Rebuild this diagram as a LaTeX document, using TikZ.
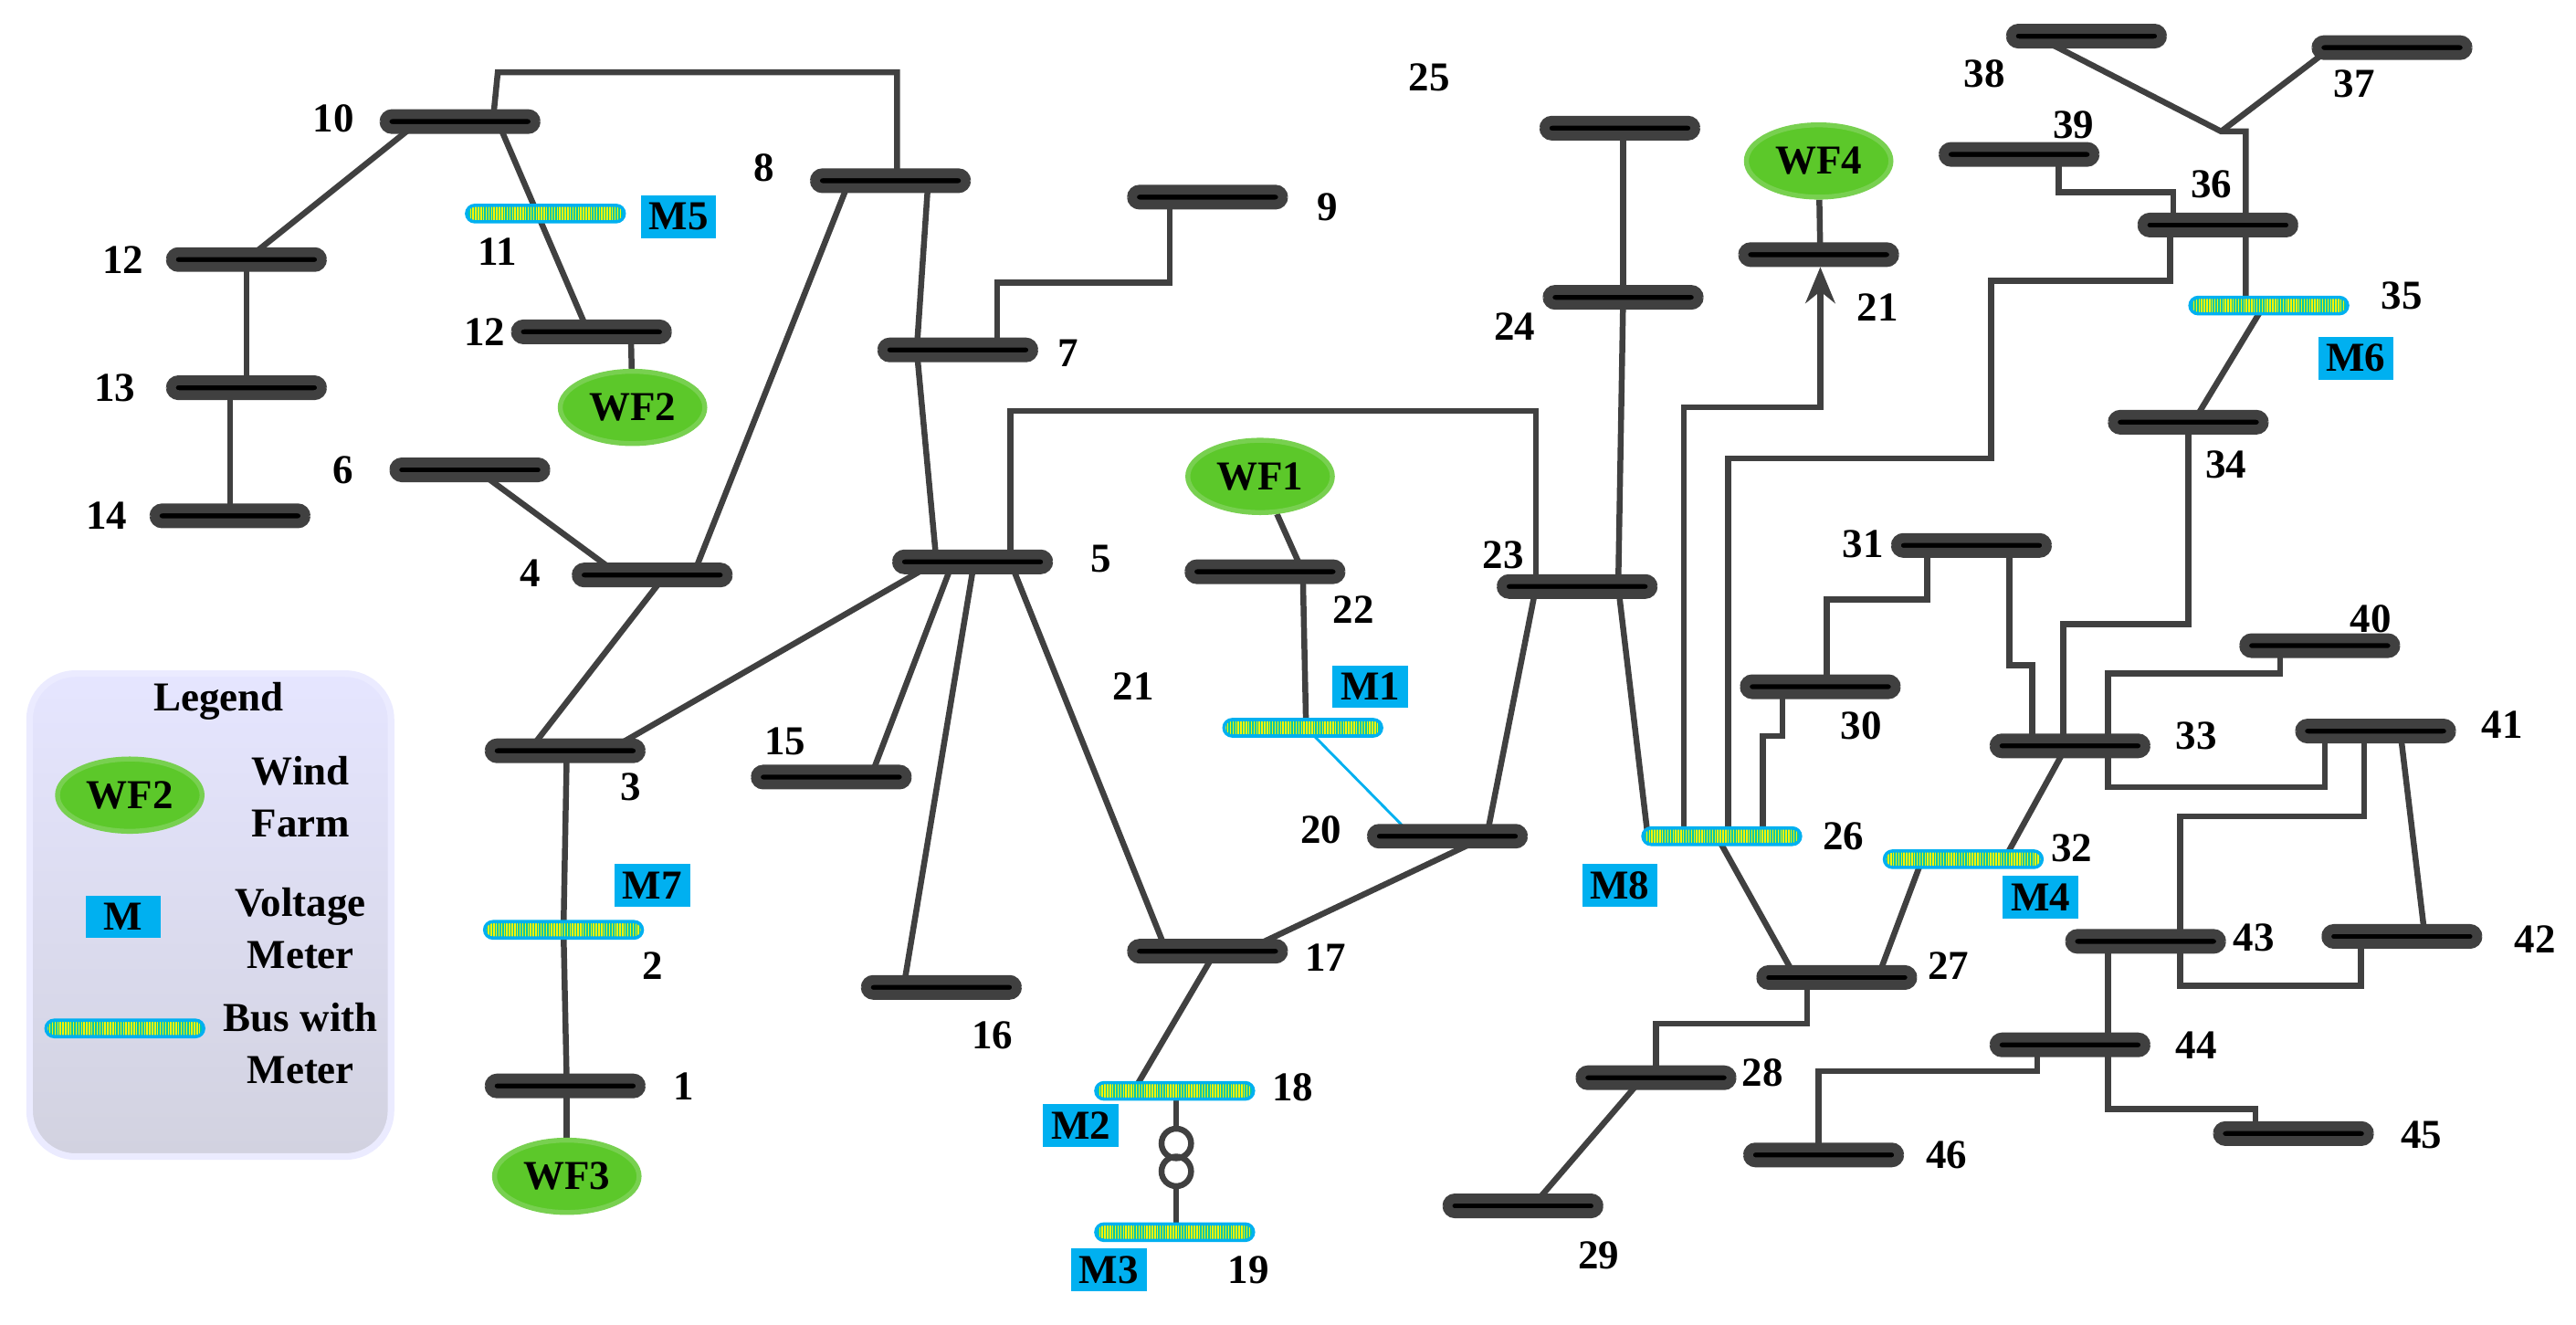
\documentclass[tikz,border=0pt]{standalone}
\usepackage{fontspec}
\setmainfont{Liberation Serif}
\newfontfamily\lsr{Liberation Serif}
\usetikzlibrary{arrows.meta,shapes.geometric}
\pgfdeclarelayer{bg}
\pgfsetlayers{bg,main}
\definecolor{ln}{HTML}{404040}
\definecolor{mcyan}{HTML}{00B0F0}
\definecolor{wfg}{HTML}{5CC82A}
\definecolor{wfb}{HTML}{78D050}
\tikzset{
  bus/.style={rectangle,draw=ln,fill=black,line width=3pt,rounded corners=2.3pt,minimum width=46pt,minimum height=4.5pt,inner sep=0pt},
  mbus/.style={rectangle,draw=mcyan,fill=yellow,line width=1pt,rounded corners=2.5pt,minimum width=48pt,minimum height=5pt,inner sep=0pt,
    path picture={\foreach \i in {0,...,70}{\draw[mcyan!70!green,line width=0.4pt] ([xshift=\i*0.8pt]path picture bounding box.south west) -- ++(0,10pt);}}},
  con/.style={draw=ln,line width=1.8pt},
  lab/.style={font=\lsr\fontsize{12.5}{14}\selectfont\bfseries,inner sep=0pt},
  meter/.style={fill=mcyan,font=\lsr\fontsize{12.5}{14}\selectfont\bfseries,inner sep=0pt,minimum width=23pt,minimum height=13pt},
  wf/.style={ellipse,fill=wfg,draw=wfb,line width=1.5pt,minimum width=44pt,minimum height=22pt,inner sep=0pt,font=\lsr\fontsize{12.5}{14}\selectfont\bfseries},
}
\begin{document}
\begin{tikzpicture}[x=0.5pt,y=-0.5pt]
\useasboundingbox (0,0) rectangle (1568,806);
% legend
\node[draw=blue!8!white,line width=2pt,rounded corners=14pt,top color=blue!10!white,bottom color=blue!18!gray!30!white,minimum width=110pt,minimum height=147pt] (leg) at (128,557) {};
\node[lab] (legt) at (133,427) {Legend};
\node[wf] (lwf) at (79,484) {WF2};
\node[lab,align=center] (lwft) at (183,485) {Wind\\[2pt]Farm};
\node[meter] (lm) at (75,558) {M};
\node[lab,align=center] (lmt) at (183,565) {Voltage\\[2pt]Meter};
\node[mbus] (lmb) at (76,626) {};
\node[lab,align=center] (lmbt) at (183,635) {Bus with\\[2pt]Meter};
% buses
\node[bus] (b10) at (280,74) {};
\node[bus] (b8) at (542,110) {};
\node[bus] (b12a) at (150,158) {};
\node[bus] (b13) at (150,236) {};
\node[bus] (b14) at (140,314) {};
\node[mbus] (m11) at (332,130) {};
\node[bus] (b12b) at (360,202) {};
\node[bus] (b6) at (286,286) {};
\node[bus] (b4) at (397,350) {};
\node[bus] (b3) at (344,457) {};
\node[mbus] (m2) at (343,566) {};
\node[bus] (b1) at (344,661) {};
\node[bus] (b7) at (583,213) {};
\node[bus] (b9) at (735,120) {};
\node[bus] (b5) at (592,342) {};
\node[bus] (b15) at (506,473) {};
\node[bus] (b16) at (573,601) {};
\node[bus] (b22) at (770,348) {};
\node[mbus] (mm1) at (793,443) {};
\node[bus] (b20) at (881,509) {};
\node[bus] (b17) at (735,579) {};
\node[mbus] (m18) at (715,664) {};
\node[mbus] (m19) at (715,750) {};
\node[bus] (b23) at (960,357) {};
\node[bus] (b24) at (988,181) {};
\node[bus] (b25) at (986,78) {};
\node[bus] (b21) at (1107,155) {};
\node[mbus] (m26) at (1048,509) {};
\node[bus] (b27) at (1118,595) {};
\node[bus] (b28) at (1008,656) {};
\node[bus] (b29) at (927,734) {};
\node[bus] (b30) at (1108,418) {};
\node[bus] (b31) at (1200,332) {};
\node[mbus] (m32) at (1195,523) {};
\node[bus] (b33) at (1260,454) {};
\node[bus] (b34) at (1332,257) {};
\node[mbus] (m35) at (1381,186) {};
\node[bus] (b36) at (1350,137) {};
\node[bus] (b37) at (1456,29) {};
\node[bus] (b38) at (1270,22) {};
\node[bus] (b39) at (1229,94) {};
\node[bus] (b40) at (1412,393) {};
\node[bus] (b41) at (1446,445) {};
\node[bus] (b42) at (1462,570) {};
\node[bus] (b43) at (1306,573) {};
\node[bus] (b44) at (1260,636) {};
\node[bus] (b45) at (1396,690) {};
\node[bus] (b46) at (1110,703) {};
% wind farms
\node[wf] (wf2) at (385,248) {WF2};
\node[wf] (wf3) at (345,716) {WF3};
\node[wf] (wf1) at (767,290) {WF1};
\node[wf] (wf4) at (1107,98) {WF4};
% meters
\node[meter] (M5) at (413,132) {M5};
\node[meter] (M7) at (397,539) {M7};
\node[meter] (M1) at (834,418) {M1};
\node[meter] (M2) at (658,685) {M2};
\node[meter] (M3) at (675,773) {M3};
\node[meter] (M8) at (986,539) {M8};
\node[meter] (M4) at (1242,546) {M4};
\node[meter] (M6) at (1434,218) {M6};
% transformer
\coordinate (tA) at (716,696);
\coordinate (tB) at (716,713);
\draw[ln,line width=1.8pt] (tA) circle (9);
\draw[ln,line width=1.8pt] (tB) circle (9);
% labels
\foreach \t/\x/\y in {10/203/72,8/465/102,12/75/158,13/70/236,14/65/314,11/303/153,12/295/202,6/209/286,4/323/349,3/384/479,2/397/588,1/416/661,7/650/215,9/808/126,5/670/340,15/478/451,16/604/630,21/690/418,25/870/47,22/824/371,20/804/505,17/807/583,18/787/662,19/760/773,23/915/338,24/922/199,21/1143/187,26/1122/509,27/1186/588,28/1073/653,29/973/764,30/1133/442,31/1134/331,32/1261/516,33/1337/448,34/1355/283,35/1462/180,36/1346/112,37/1433/51,38/1208/45,39/1262/76,40/1443/377,41/1523/441,42/1543/572,43/1372/571,44/1337/636,45/1474/691,46/1185/703}
  \node[lab] at (\x,\y) {\t};
% connectors
\begin{pgfonlayer}{bg}
\draw[con] (300,0 |- b10) -- (303,44) -- (546,44) -- (546,0 |- b8);
\draw[con] (255,0 |- b10) -- (150,0 |- b12a);
\draw[con] (303,0 |- b10) -- (358,0 |- b12b);
\draw[con] (150,0 |- b12a) -- (150,0 |- b13);
\draw[con] (140,0 |- b13) -- (140,0 |- b14);
\draw[con] (384,0 |- b12b) -- (wf2);
\draw[con] (517,0 |- b8) -- (422,0 |- b4);
\draw[con] (565,0 |- b8) -- (558,0 |- b7);
\draw[con] (558,0 |- b7) -- (570,0 |- b5);
\draw[con] (607,0 |- b7) -- (607,172) -- (712,172) -- (712,0 |- b9);
\draw[con] (290,0 |- b6) -- (377,0 |- b4);
\draw[con] (405,0 |- b4) -- (322,0 |- b3);
\draw[con] (345,0 |- b3) -- (343,0 |- m2);
\draw[con] (343,0 |- m2) -- (345,0 |- b1);
\draw[con] (345,0 |- b1) -- (wf3);
\draw[con] (370,0 |- b3) -- (570,0 |- b5);
\draw[con] (615,0 |- b5) -- (615,250) -- (935,250) -- (935,0 |- b23);
\draw[con] (580,0 |- b5) -- (530,0 |- b15);
\draw[con] (593,0 |- b5) -- (550,0 |- b16);
\draw[con] (615,0 |- b5) -- (710,0 |- b17);
\draw[con] (757,0 |- b17) -- (905,0 |- b20);
\draw[con] (740,0 |- b17) -- (690,0 |- m18);
\draw[con] (716,0 |- m18) -- (716,687);
\draw[con] (716,722) -- (716,0 |- m19);
\draw[con] (wf1) -- (793,0 |- b22);
\draw[con] (793,0 |- b22) -- (795,0 |- mm1);
\draw[mcyan,line width=0.8pt] (795,0 |- mm1) -- (860,0 |- b20);
\draw[con] (905,0 |- b20) -- (935,0 |- b23);
\draw[con] (985,0 |- b23) -- (1003,0 |- m26);
\draw[con] (988,0 |- b25) -- (988,0 |- b24);
\draw[con] (988,0 |- b24) -- (985,0 |- b23);
\draw[con] (wf4) -- (1108,0 |- b21);
\draw[con,-{Stealth[length=11pt,width=9pt]}] (1025,0 |- m26) -- (1025,248) -- (1108,248) -- (b21.south -| 1108,0);
\draw[con] (1052,0 |- m26) -- (1052,279) -- (1212,279) -- (1212,171) -- (1321,171) -- (1321,0 |- b36);
\draw[con] (1073,0 |- m26) -- (1073,448) -- (1085,448) -- (1085,0 |- b30);
\draw[con] (1045,0 |- m26) -- (1093,0 |- b27);
\draw[con] (1143,0 |- b27) -- (1170,0 |- m32);
\draw[con] (1100,0 |- b27) -- (1100,623) -- (1008,623) -- (1008,0 |- b28);
\draw[con] (1000,0 |- b28) -- (933,0 |- b29);
\draw[con] (1112,0 |- b30) -- (1112,365) -- (1173,365) -- (1173,0 |- b31);
\draw[con] (1223,0 |- b31) -- (1223,405) -- (1237,405) -- (1237,0 |- b33);
\draw[con] (1332,0 |- b34) -- (1332,380) -- (1256,380) -- (1256,0 |- b33);
\draw[con] (1335,0 |- b34) -- (1378,0 |- m35);
\draw[con] (1258,0 |- b33) -- (1220,0 |- m32);
\draw[con] (1283,0 |- b33) -- (1283,410) -- (1388,410) -- (1388,0 |- b40);
\draw[con] (1283,0 |- b33) -- (1283,479) -- (1415,479) -- (1415,0 |- b41);
\draw[con] (1439,0 |- b41) -- (1439,497) -- (1327,497) -- (1327,600) -- (1437,600) -- (1437,0 |- b42);
\draw[con] (1461,0 |- b41) -- (1476,0 |- b42);
\draw[con] (1283,0 |- b43) -- (1283,0 |- b44);
\draw[con] (1283,0 |- b44) -- (1283,675) -- (1373,675) -- (1373,0 |- b45);
\draw[con] (1240,0 |- b44) -- (1240,652) -- (1107,652) -- (1107,0 |- b46);
\draw[con] (1253,0 |- b39) -- (1253,117) -- (1323,117) -- (1323,0 |- b36);
\draw[con] (1239,0 |- b38) -- (1352,80) -- (1367,80) -- (1367,0 |- m35);
\draw[con] (1419,0 |- b37) -- (1352,80);
\end{pgfonlayer}
\end{tikzpicture}
\end{document}
